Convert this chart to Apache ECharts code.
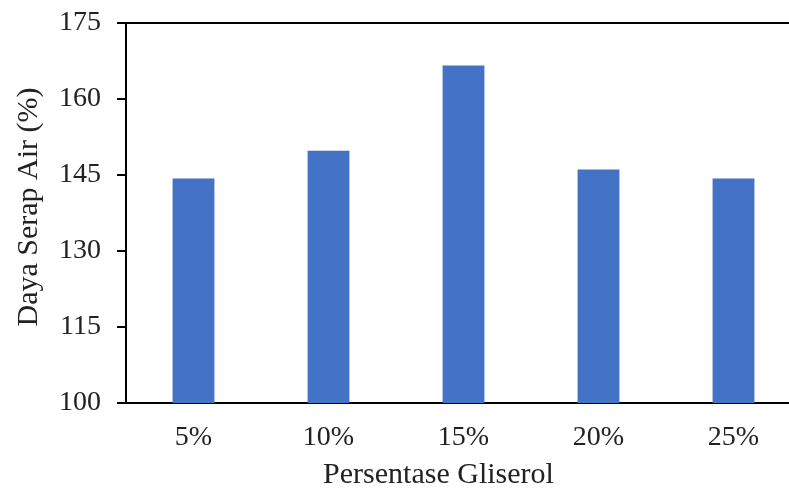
<!DOCTYPE html>
<html>
<head>
<meta charset="utf-8">
<script src="https://cdn.jsdelivr.net/npm/echarts@6/dist/echarts.min.js"></script>
<style>
  html, body { margin: 0; padding: 0; background: #fff; }
  #chart { width: 789px; height: 490px; }
</style>
</head>
<body>
<div id="chart"></div>
<script>
// Water absorption by glycerol percentage
const categories = ['5%', '10%', '15%', '20%', '25%'];
const absorption = [144.3, 149.8, 166.6, 146.1, 144.3];
const yTicks = { min: 100, max: 175, step: 15 };

const FONT = '"Liberation Serif", "Times New Roman", serif';
const chart = echarts.init(document.getElementById('chart'));

chart.setOption({
  animation: false,
  // plot area runs slightly past the right edge of the canvas
  grid: { left: 126, top: 23, width: 675, height: 380, outerBoundsMode: 'none', containLabel: false },
  xAxis: [
    {
      type: 'category',
      data: categories,
      axisLine: { show: true, lineStyle: { color: '#000', width: 2 } },
      axisTick: { show: false },
      axisLabel: { color: '#222', fontFamily: FONT, fontSize: 28, margin: 21 },
      name: 'Persentase Gliserol',
      nameLocation: 'middle',
      nameGap: 57,
      nameTextStyle: { color: '#222', fontFamily: FONT, fontSize: 30, padding: [0, 50, 0, 0] }
    },
    {
      type: 'category',
      data: categories,
      position: 'top',
      axisLine: { show: true, lineStyle: { color: '#000', width: 2 } },
      axisTick: { show: false },
      axisLabel: { show: false }
    }
  ],
  yAxis: {
    type: 'value',
    min: yTicks.min,
    max: yTicks.max,
    interval: yTicks.step,
    axisLine: { show: true, lineStyle: { color: '#000', width: 2 } },
    axisTick: { show: true, length: 9, lineStyle: { color: '#000', width: 2 } },
    splitLine: { show: false },
    axisLabel: { color: '#222', fontFamily: FONT, fontSize: 28, margin: 25 },
    name: 'Daya Serap Air (%)',
    nameLocation: 'middle',
    nameGap: 82,
    nameTextStyle: { color: '#222', fontFamily: FONT, fontSize: 30, padding: [0, 0, 0, 12] }
  },
  series: [{
    type: 'bar',
    data: absorption,
    barWidth: '31%',
    itemStyle: { color: '#4472C4' }
  }]
});
</script>
</body>
</html>
